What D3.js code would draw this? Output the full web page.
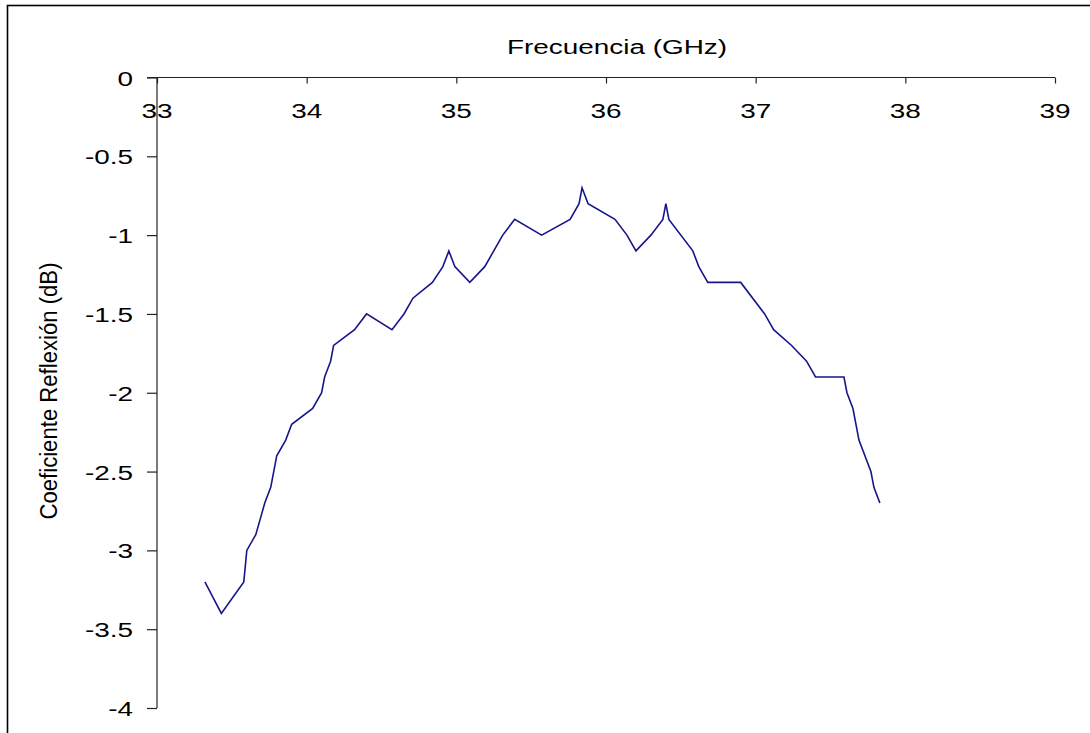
<!DOCTYPE html>
<html>
<head>
<meta charset="utf-8">
<script src="https://cdn.jsdelivr.net/npm/d3@7/dist/d3.min.js"></script>
<style>
  html, body { margin: 0; padding: 0; background: #fff; }
  svg { display: block; }
  text { font-family: "Liberation Sans", Arial, sans-serif; fill: #000; }
</style>
</head>
<body>
<svg id="chart" width="1090" height="733"></svg>
<script>
// ---- data ----
const freq = [33.32, 33.43, 33.58, 33.60, 33.66, 33.69, 33.72, 33.76, 33.80, 33.86, 33.90,
  34.04, 34.10, 34.12, 34.16, 34.18, 34.32, 34.40, 34.57, 34.65, 34.71, 34.84, 34.91,
  34.95, 34.99, 35.09, 35.19, 35.31, 35.39, 35.57, 35.76, 35.82, 35.84, 35.88, 36.06,
  36.14, 36.20, 36.30, 36.38, 36.40, 36.42, 36.58, 36.62, 36.68, 36.90, 37.06, 37.12,
  37.24, 37.34, 37.40, 37.59, 37.61, 37.65, 37.69, 37.77, 37.79, 37.83];
const reflection = [-3.2, -3.4, -3.2, -3.0, -2.9, -2.8, -2.7, -2.6, -2.4, -2.3, -2.2,
  -2.1, -2.0, -1.9, -1.8, -1.7, -1.6, -1.5, -1.6, -1.5, -1.4, -1.3, -1.2,
  -1.1, -1.2, -1.3, -1.2, -1.0, -0.9, -1.0, -0.9, -0.8, -0.7, -0.8, -0.9,
  -1.0, -1.1, -1.0, -0.9, -0.8, -0.9, -1.1, -1.2, -1.3, -1.3, -1.5, -1.6,
  -1.7, -1.8, -1.9, -1.9, -2.0, -2.1, -2.3, -2.5, -2.6, -2.7];
const xTicks = [33, 34, 35, 36, 37, 38, 39];
const xTickLabels = ["33", "34", "35", "36", "37", "38", "39"];
const yTicks = [0, -0.5, -1, -1.5, -2, -2.5, -3, -3.5, -4];
const yTickLabels = ["0", "-0.5", "-1", "-1.5", "-2", "-2.5", "-3", "-3.5", "-4"];
const xTitle = "Frecuencia (GHz)";
const yTitle = "Coeficiente Reflexión (dB)";

// ---- layout ----
const svg = d3.select("#chart");
const x = d3.scaleLinear().domain([33, 39]).range([157, 1055]);
const y = d3.scaleLinear().domain([0, -4]).range([77.5, 708]);
const stretch = 1.33;
const axisColor = "#222";

// outer frame (extends past right and bottom edge)
svg.append("rect")
  .attr("x", 7.5).attr("y", 5.5).attr("width", 1200).attr("height", 900)
  .attr("fill", "none").attr("stroke", "#000").attr("stroke-width", 1.6);

// x axis (at top, y = 0)
const xAxis = d3.axisBottom(x).tickValues(xTicks).tickSize(6).tickFormat("");
const gx = svg.append("g").attr("transform", `translate(0,${y(0)})`).call(xAxis);
gx.select(".domain").attr("stroke", axisColor).attr("stroke-width", 1.2)
  .attr("d", `M147,0H${x(39)}`);
gx.selectAll(".tick line").attr("stroke", axisColor).attr("stroke-width", 1.2);

// y axis
const yAxis = d3.axisLeft(y).tickValues(yTicks).tickSize(10).tickFormat("");
const gy = svg.append("g").attr("transform", `translate(${x(33)},0)`).call(yAxis);
gy.select(".domain").attr("stroke", axisColor).attr("stroke-width", 1.2)
  .attr("d", `M0,${y(0)}V${y(-4)}`);
gy.selectAll(".tick line").attr("stroke", axisColor).attr("stroke-width", 1.2);

// x tick labels
svg.append("g").selectAll("text").data(xTicks).join("text")
  .attr("transform", d => `translate(${x(d)},118) scale(${stretch},1)`)
  .attr("text-anchor", "middle").attr("font-size", 21)
  .text((d, i) => xTickLabels[i]);

// y tick labels
svg.append("g").selectAll("text").data(yTicks).join("text")
  .attr("transform", d => `translate(133,${y(d) + 8}) scale(${stretch},1)`)
  .attr("text-anchor", "end").attr("font-size", 21)
  .text((d, i) => yTickLabels[i]);

// axis titles
svg.append("text")
  .attr("transform", `translate(617,54) scale(${stretch},1)`)
  .attr("text-anchor", "middle").attr("font-size", 21)
  .text(xTitle);

svg.append("text")
  .attr("transform", `translate(57,391) rotate(-90)`)
  .attr("text-anchor", "middle").attr("font-size", 23)
  .attr("textLength", 257).attr("lengthAdjust", "spacingAndGlyphs")
  .text(yTitle);

// data line
const line = d3.line().x((d, i) => x(freq[i])).y(d => y(d));
svg.append("path").datum(reflection)
  .attr("d", line)
  .attr("fill", "none").attr("stroke", "#16168c").attr("stroke-width", 1.6)
  .attr("stroke-linejoin", "miter");
</script>
</body>
</html>
